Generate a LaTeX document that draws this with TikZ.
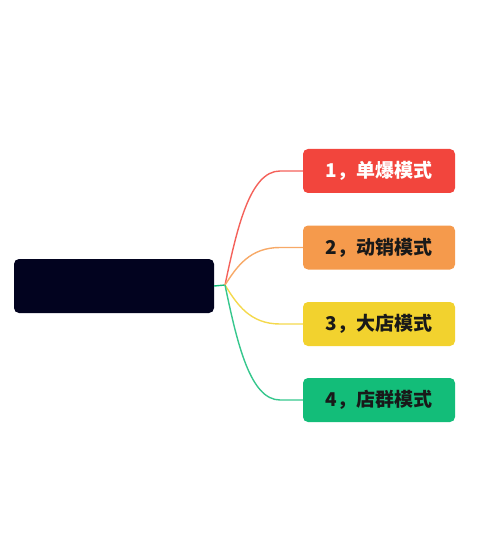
\documentclass[tikz,border=0pt]{standalone}
\usepackage{fontspec}
\newfontfamily\cjk{Noto Sans CJK SC}
\usetikzlibrary{calc}
\definecolor{modered}{HTML}{F2453D}
\definecolor{modeorange}{HTML}{F59A4C}
\definecolor{modeyellow}{HTML}{F2D22E}
\definecolor{modegreen}{HTML}{13BD79}
\definecolor{hubnavy}{HTML}{02031F}

\begin{document}
\begin{tikzpicture}[x=1pt,y=-1pt,
    hub/.style={fill=hubnavy,rounded corners=5pt,minimum width=200pt,minimum height=54pt,inner sep=0pt},
    mode/.style={rounded corners=5pt,minimum width=152pt,minimum height=44pt,inner sep=0pt,
      font=\cjk\bfseries\fontsize{19}{19}\selectfont},
    branch/.style={line width=1.4pt}]
    \useasboundingbox (0,0) rectangle (500,553);
    % Centre box
    \node[hub] (root) at (114,286) {};
    \coordinate (fork) at (225,285);
    \draw[branch,modegreen] (root.east) -- (fork);
    % Modes
    \foreach \i/\y/\col/\tcol/\txt in {1/171/modered/white/{1，单爆模式},
        2/247.5/modeorange/black!90/{2，动销模式},
        3/324/modeyellow/black!90/{3，大店模式},
        4/400/modegreen/black!90/{4，店群模式}} {
      \node[mode,fill=\col,text=\tcol] (m\i) at (379,\y) {\txt};
      \draw[branch,\col!85!white] (fork) .. controls ($(fork)+(12,{(\y-285)/2})$) and (250,\y) .. (280,\y) -- (m\i.west);
    }
  \end{tikzpicture}
\end{document}
